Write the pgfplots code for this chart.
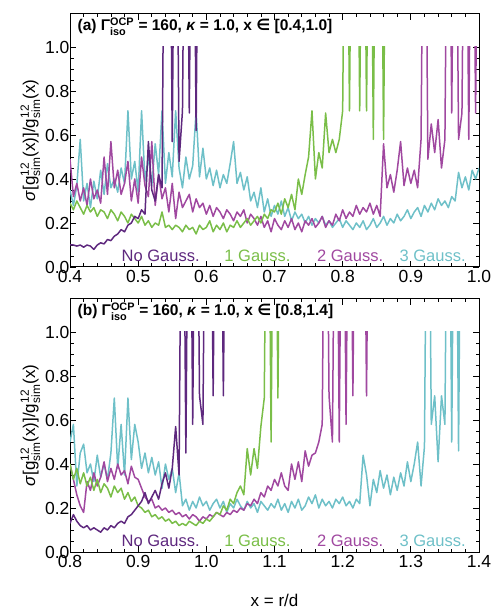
\documentclass[border=0pt]{standalone}
\usepackage{fontspec}
\setmainfont{Liberation Sans}
\newfontfamily\dejavu{DejaVu Sans}
\usepackage{amsmath}
\usepackage{pgfplots}
\pgfplotsset{compat=1.18}

\definecolor{nog}{HTML}{5E287E}
\definecolor{ga}{HTML}{7ABE48}
\definecolor{gb}{HTML}{A048A0}
\definecolor{gc}{HTML}{6EC0C8}

\newcommand\gsim{g$^{\text{12}}_{\text{sim}}$}

\pgfplotsset{
  panel/.style={
    scale only axis, width=409pt, height=253pt,
    ymin=0, ymax=1.15,
    ytick={0,0.2,0.4,0.6,0.8,1.0},
    minor y tick num=3, minor x tick num=4,
    tick align=inside,
    major tick length=6pt, minor tick length=3.5pt,
    tick style={black, line width=0.7pt},
    axis line style={line width=1pt},
    ticklabel style={font=\fontsize{17.5}{17.5}\selectfont},
    /pgf/number format/assume math mode=true,
    xticklabel style={/pgf/number format/fixed, /pgf/number format/fixed zerofill, /pgf/number format/precision=1},
    yticklabel style={xshift=3pt, /pgf/number format/fixed, /pgf/number format/fixed zerofill, /pgf/number format/precision=1},
    ylabel={\textit{σ}[\gsim(x)]/\gsim(x)},
    ylabel style={font=\fontsize{17}{17}\selectfont, yshift=-2pt},
    every axis plot/.append style={line width=1.5pt, line join=round},
  },
}
\tikzset{
  ttl/.style={anchor=west, font=\bfseries\fontsize{15.5}{15.5}\selectfont},
  lbl/.style={anchor=base, font=\fontsize{16.5}{16.5}\selectfont},
}

\begin{document}
\begin{tikzpicture}
\useasboundingbox (-70pt,-342pt) rectangle (424pt,267pt);

% ---------------- panel (a) ----------------
\begin{axis}[panel, at={(0,0)}, xmin=0.4, xmax=1.0,
  xtick={0.4,0.5,0.6,0.7,0.8,0.9,1.0}]
\node[ttl] at (rel axis cs:0.01,0.949) {(a) Γ$^{\text{OCP}}_{\text{iso}}$ = 160, \textit{κ} = 1.0, x {\dejavu\bfseries ∈} [0.4,1.0]};
\clip (axis cs:0.3,-0.1) rectangle (axis cs:1.1,1.0);

% 3 Gauss.
\addplot[gc] coordinates {
 (0.400,0.35)(0.405,0.28)(0.410,0.37)(0.415,0.58)(0.420,0.30)(0.425,0.38)(0.430,0.27)(0.435,0.39)
 (0.440,0.31)(0.445,0.44)(0.450,0.33)(0.455,0.47)(0.460,0.36)(0.465,0.40)(0.470,0.34)(0.475,0.45)
 (0.480,0.38)(0.485,0.71)(0.490,0.40)(0.495,0.48)(0.500,0.34)(0.505,0.71)(0.510,0.39)(0.515,0.50)
 (0.520,0.37)(0.525,0.56)(0.530,0.42)(0.535,0.71)(0.540,0.38)(0.545,0.52)(0.550,0.41)(0.555,0.71)
 (0.560,0.45)(0.565,0.36)(0.570,0.50)(0.575,0.40)(0.580,0.46)(0.585,0.71)(0.590,0.41)(0.595,0.54)
 (0.600,0.40)(0.605,0.45)(0.610,0.37)(0.615,0.44)(0.620,0.36)(0.625,0.42)(0.630,0.38)(0.635,0.47)
 (0.640,0.57)(0.645,0.38)(0.650,0.43)(0.655,0.35)(0.660,0.41)(0.665,0.30)(0.670,0.34)(0.675,0.27)
 (0.680,0.36)(0.685,0.25)(0.690,0.31)(0.695,0.23)(0.700,0.28)(0.705,0.24)(0.710,0.30)(0.715,0.23)
 (0.720,0.27)(0.725,0.21)(0.730,0.25)(0.735,0.22)(0.740,0.24)(0.745,0.20)(0.750,0.23)(0.755,0.19)
 (0.760,0.22)(0.765,0.20)(0.770,0.23)(0.775,0.19)(0.780,0.21)(0.785,0.18)(0.790,0.20)(0.795,0.22)
 (0.800,0.18)(0.805,0.21)(0.810,0.19)(0.815,0.17)(0.820,0.20)(0.825,0.18)(0.830,0.21)(0.835,0.17)
 (0.840,0.19)(0.845,0.22)(0.850,0.18)(0.855,0.20)(0.860,0.23)(0.865,0.19)(0.870,0.22)(0.875,0.20)
 (0.880,0.24)(0.885,0.21)(0.890,0.23)(0.895,0.26)(0.900,0.22)(0.905,0.25)(0.910,0.27)(0.915,0.23)
 (0.920,0.28)(0.925,0.25)(0.930,0.29)(0.935,0.26)(0.940,0.31)(0.945,0.28)(0.950,0.30)(0.955,0.27)
 (0.960,0.32)(0.965,0.30)(0.970,0.43)(0.975,0.36)(0.980,0.41)(0.985,0.35)(0.990,0.44)(0.995,0.40)
 (1.000,0.45)
};
% 2 Gauss.
\addplot[gb] coordinates {
 (0.400,0.49)(0.405,0.32)(0.410,0.38)(0.415,0.30)(0.420,0.36)(0.425,0.28)(0.430,0.40)(0.435,0.31)
 (0.440,0.35)(0.445,0.29)(0.450,0.50)(0.455,0.33)(0.460,0.57)(0.465,0.36)(0.470,0.44)(0.475,0.33)
 (0.480,0.38)(0.485,0.48)(0.490,0.30)(0.495,0.40)(0.500,0.29)(0.505,0.50)(0.510,0.37)(0.515,0.32)
 (0.520,0.57)(0.525,0.28)(0.530,0.42)(0.535,0.31)(0.540,0.36)(0.545,0.25)(0.550,0.38)(0.555,0.22)
 (0.560,0.34)(0.565,0.27)(0.570,0.30)(0.575,0.33)(0.580,0.25)(0.585,0.31)(0.590,0.27)(0.595,0.29)
 (0.600,0.24)(0.605,0.28)(0.610,0.23)(0.615,0.27)(0.620,0.25)(0.625,0.22)(0.630,0.26)(0.635,0.24)
 (0.640,0.21)(0.645,0.25)(0.650,0.23)(0.655,0.26)(0.660,0.20)(0.665,0.24)(0.670,0.22)(0.675,0.19)
 (0.680,0.23)(0.685,0.18)(0.690,0.21)(0.695,0.16)(0.700,0.22)(0.705,0.19)(0.710,0.17)(0.715,0.21)
 (0.720,0.18)(0.725,0.22)(0.730,0.17)(0.735,0.20)(0.740,0.16)(0.745,0.21)(0.750,0.19)(0.755,0.22)
 (0.760,0.18)(0.765,0.20)(0.770,0.23)(0.775,0.18)(0.780,0.21)(0.785,0.19)(0.790,0.24)(0.795,0.21)
 (0.800,0.26)(0.805,0.22)(0.810,0.25)(0.815,0.23)(0.820,0.28)(0.825,0.24)(0.830,0.27)(0.835,0.25)
 (0.840,0.29)(0.845,0.24)(0.850,0.28)(0.855,0.23)(0.860,0.56)(0.865,0.36)(0.870,0.42)(0.875,0.34)
 (0.880,0.44)(0.885,0.57)(0.890,0.37)(0.895,0.45)(0.900,0.38)(0.905,0.44)(0.910,0.36)(0.915,0.58)
 (0.920,2.5)(0.925,0.49)(0.930,0.65)(0.935,0.52)(0.940,0.67)(0.945,0.45)(0.950,0.58)(0.955,2.5)
 (0.960,0.70)(0.965,2.5)(0.970,0.58)(0.975,0.70)(0.980,2.5)(0.985,0.58)(0.990,2.5)(0.995,0.70)
 (1.000,2.5)
};
% 1 Gauss.
\addplot[ga] coordinates {
 (0.400,0.29)(0.405,0.26)(0.410,0.30)(0.415,0.27)(0.420,0.24)(0.425,0.28)(0.430,0.25)(0.435,0.27)
 (0.440,0.23)(0.445,0.26)(0.450,0.25)(0.455,0.22)(0.460,0.26)(0.465,0.24)(0.470,0.21)(0.475,0.25)
 (0.480,0.23)(0.485,0.20)(0.490,0.24)(0.495,0.22)(0.500,0.20)(0.505,0.23)(0.510,0.19)(0.515,0.21)
 (0.520,0.18)(0.525,0.20)(0.530,0.19)(0.535,0.25)(0.540,0.18)(0.545,0.19)(0.550,0.17)(0.555,0.19)
 (0.560,0.18)(0.565,0.16)(0.570,0.19)(0.575,0.17)(0.580,0.18)(0.585,0.15)(0.590,0.19)(0.595,0.17)
 (0.600,0.18)(0.605,0.21)(0.610,0.16)(0.615,0.19)(0.620,0.17)(0.625,0.20)(0.630,0.16)(0.635,0.19)
 (0.640,0.18)(0.645,0.21)(0.650,0.18)(0.655,0.20)(0.660,0.22)(0.665,0.19)(0.670,0.21)(0.675,0.23)
 (0.680,0.20)(0.685,0.24)(0.690,0.22)(0.695,0.26)(0.700,0.25)(0.705,0.29)(0.710,0.24)(0.715,0.31)
 (0.720,0.27)(0.725,0.33)(0.730,0.26)(0.735,0.40)(0.740,0.33)(0.745,0.42)(0.750,0.50)(0.755,0.71)
 (0.760,0.40)(0.765,0.52)(0.770,0.45)(0.775,0.70)(0.780,0.52)(0.785,0.58)(0.790,0.52)(0.795,0.58)
 (0.800,0.71)(0.805,2.5)(0.810,0.71)(0.815,2.5)(0.820,2.5)(0.825,0.71)(0.830,2.5)(0.835,0.71)
 (0.840,2.5)(0.845,0.58)(0.850,2.5)(0.855,2.5)(0.860,0.58)(0.865,2.5)
};
% No Gauss.
\addplot[nog] coordinates {
 (0.400,0.10)(0.405,0.10)(0.410,0.095)(0.415,0.10)(0.420,0.09)(0.425,0.10)(0.430,0.095)(0.435,0.08)
 (0.440,0.10)(0.445,0.11)(0.450,0.105)(0.455,0.125)(0.460,0.12)(0.465,0.14)(0.470,0.15)(0.475,0.17)
 (0.480,0.16)(0.485,0.19)(0.490,0.20)(0.495,0.23)(0.500,0.22)(0.505,0.26)(0.510,0.24)(0.515,0.57)
 (0.520,0.35)(0.525,0.30)(0.530,0.42)(0.535,0.36)(0.540,2.5)(0.545,2.5)(0.550,0.57)(0.555,2.5)
 (0.560,0.48)(0.565,0.71)(0.570,2.5)(0.575,0.70)(0.580,2.5)(0.585,0.62)(0.590,2.5)(0.595,2.5)
};

\node[lbl, text=nog] at (axis cs:0.533,0.027) {No Gauss.};
\node[lbl, text=ga] at (axis cs:0.675,0.027) {1 Gauss.};
\node[lbl, text=gb] at (axis cs:0.811,0.027) {2 Gauss.};
\node[lbl, text=gc] at (axis cs:0.932,0.027) {3 Gauss.};
\end{axis}

% ---------------- panel (b) ----------------
\begin{axis}[panel, at={(0,-285pt)}, xmin=0.8, xmax=1.4,
  xtick={0.8,0.9,1.0,1.1,1.2,1.3,1.4},
  xlabel={x = r/d},
  xlabel style={font=\fontsize{17}{17}\selectfont, at={(rel axis cs:0.5,0)}, anchor=base, yshift=-54pt}]
\node[ttl] at (rel axis cs:0.01,0.949) {(b) Γ$^{\text{OCP}}_{\text{iso}}$ = 160, \textit{κ} = 1.0, x {\dejavu\bfseries ∈} [0.8,1.4]};
\clip (axis cs:0.7,-0.1) rectangle (axis cs:1.5,1.0);

% 3 Gauss.
\addplot[gc] coordinates {
 (0.800,0.50)(0.805,0.58)(0.810,0.30)(0.815,0.45)(0.820,0.49)(0.825,0.36)(0.830,0.40)(0.835,0.32)
 (0.840,0.44)(0.845,0.34)(0.850,0.40)(0.855,0.33)(0.860,0.45)(0.865,0.70)(0.870,0.38)(0.875,0.58)
 (0.880,0.35)(0.885,0.70)(0.890,0.42)(0.895,0.58)(0.900,0.50)(0.905,0.38)(0.910,0.45)(0.915,0.36)
 (0.920,0.43)(0.925,0.35)(0.930,0.41)(0.935,0.29)(0.940,0.40)(0.945,0.33)(0.950,0.38)(0.955,0.27)
 (0.960,0.36)(0.965,0.21)(0.970,0.24)(0.975,0.19)(0.980,0.23)(0.985,0.20)(0.990,0.25)(0.995,0.21)
 (1.000,0.23)(1.005,0.19)(1.010,0.22)(1.015,0.24)(1.020,0.20)(1.025,0.23)(1.030,0.18)(1.035,0.22)
 (1.040,0.20)(1.045,0.24)(1.050,0.21)(1.055,0.19)(1.060,0.23)(1.065,0.20)(1.070,0.22)(1.075,0.18)
 (1.080,0.23)(1.085,0.21)(1.090,0.19)(1.095,0.22)(1.100,0.20)(1.105,0.24)(1.110,0.19)(1.115,0.22)
 (1.120,0.18)(1.125,0.23)(1.130,0.20)(1.135,0.24)(1.140,0.19)(1.145,0.21)(1.150,0.25)(1.155,0.22)
 (1.160,0.26)(1.165,0.20)(1.170,0.24)(1.175,0.21)(1.180,0.23)(1.185,0.20)(1.190,0.24)(1.195,0.22)
 (1.200,0.25)(1.205,0.21)(1.210,0.23)(1.215,0.20)(1.220,0.24)(1.225,0.22)(1.230,0.44)(1.235,0.35)
 (1.240,0.21)(1.245,0.33)(1.250,0.27)(1.255,0.37)(1.260,0.29)(1.265,0.35)(1.270,0.26)(1.275,0.34)
 (1.280,0.28)(1.285,0.36)(1.290,0.30)(1.295,0.41)(1.300,0.32)(1.305,0.40)(1.310,0.50)(1.315,0.30)
 (1.320,0.48)(1.325,2.5)(1.330,0.58)(1.335,0.71)(1.340,0.41)(1.345,0.71)(1.350,0.58)(1.355,2.5)
 (1.360,0.50)(1.365,2.5)(1.370,0.46)(1.375,2.5)(1.380,2.5)(1.385,2.5)(1.390,2.5)
};
% 2 Gauss.
\addplot[gb] coordinates {
 (0.800,0.40)(0.805,0.33)(0.810,0.26)(0.815,0.21)(0.820,0.18)(0.825,0.32)(0.830,0.28)(0.835,0.36)
 (0.840,0.30)(0.845,0.34)(0.850,0.41)(0.855,0.32)(0.860,0.38)(0.865,0.33)(0.870,0.40)(0.875,0.35)
 (0.880,0.37)(0.885,0.31)(0.890,0.39)(0.895,0.34)(0.900,0.33)(0.905,0.29)(0.910,0.25)(0.915,0.23)
 (0.920,0.24)(0.925,0.20)(0.930,0.21)(0.935,0.19)(0.940,0.20)(0.945,0.18)(0.950,0.19)(0.955,0.17)
 (0.960,0.18)(0.965,0.16)(0.970,0.17)(0.975,0.15)(0.980,0.17)(0.985,0.16)(0.990,0.14)(0.995,0.16)
 (1.000,0.15)(1.005,0.17)(1.010,0.16)(1.015,0.18)(1.020,0.17)(1.025,0.16)(1.030,0.18)(1.035,0.17)
 (1.040,0.19)(1.045,0.18)(1.050,0.20)(1.055,0.19)(1.060,0.22)(1.065,0.21)(1.070,0.24)(1.075,0.22)
 (1.080,0.27)(1.085,0.25)(1.090,0.30)(1.095,0.28)(1.100,0.33)(1.105,0.30)(1.110,0.36)(1.115,0.30)
 (1.120,0.28)(1.125,0.40)(1.130,0.33)(1.135,0.41)(1.140,0.32)(1.145,0.46)(1.150,0.39)(1.155,0.44)
 (1.160,0.45)(1.165,0.50)(1.170,0.58)(1.175,2.5)(1.180,0.71)(1.185,0.50)(1.190,2.5)(1.195,0.50)
 (1.200,2.5)(1.205,0.58)(1.210,2.5)(1.215,0.71)(1.220,2.5)(1.225,2.5)(1.230,2.5)(1.235,0.71)
 (1.240,2.5)(1.245,2.5)
};
% 1 Gauss.
\addplot[ga] coordinates {
 (0.800,0.40)(0.805,0.33)(0.810,0.38)(0.815,0.31)(0.820,0.36)(0.825,0.30)(0.830,0.34)(0.835,0.28)
 (0.840,0.33)(0.845,0.27)(0.850,0.31)(0.855,0.29)(0.860,0.25)(0.865,0.30)(0.870,0.27)(0.875,0.29)
 (0.880,0.24)(0.885,0.27)(0.890,0.23)(0.895,0.25)(0.900,0.21)(0.905,0.20)(0.910,0.18)(0.915,0.19)
 (0.920,0.16)(0.925,0.17)(0.930,0.15)(0.935,0.16)(0.940,0.14)(0.945,0.15)(0.950,0.13)(0.955,0.14)
 (0.960,0.12)(0.965,0.13)(0.970,0.12)(0.975,0.14)(0.980,0.13)(0.985,0.12)(0.990,0.14)(0.995,0.13)
 (1.000,0.15)(1.005,0.14)(1.010,0.16)(1.015,0.18)(1.020,0.17)(1.025,0.21)(1.030,0.19)(1.035,0.24)
 (1.040,0.22)(1.045,0.27)(1.050,0.30)(1.055,0.26)(1.060,0.47)(1.065,0.35)(1.070,0.47)(1.075,0.38)
 (1.080,0.57)(1.085,0.70)(1.090,2.5)(1.095,0.50)(1.100,2.5)(1.105,0.70)(1.110,2.5)(1.115,2.5)
};
% No Gauss.
\addplot[nog] coordinates {
 (0.800,0.13)(0.805,0.17)(0.810,0.14)(0.815,0.12)(0.820,0.11)(0.825,0.12)(0.830,0.10)(0.835,0.11)
 (0.840,0.10)(0.845,0.09)(0.850,0.11)(0.855,0.10)(0.860,0.12)(0.865,0.11)(0.870,0.13)(0.875,0.14)
 (0.880,0.13)(0.885,0.16)(0.890,0.17)(0.895,0.19)(0.900,0.21)(0.905,0.23)(0.910,0.27)(0.915,0.22)
 (0.920,0.25)(0.925,0.28)(0.930,0.24)(0.935,0.31)(0.940,0.36)(0.945,0.29)(0.950,0.38)(0.955,0.57)
 (0.960,0.35)(0.965,2.5)(0.970,0.45)(0.975,2.5)(0.980,0.58)(0.985,2.5)(0.990,0.71)(0.995,0.58)
 (1.000,2.5)(1.005,2.5)(1.010,0.71)(1.015,2.5)(1.020,2.5)(1.025,0.71)(1.030,2.5)(1.035,2.5)
};

\node[lbl, text=nog] at (axis cs:0.933,0.027) {No Gauss.};
\node[lbl, text=ga] at (axis cs:1.075,0.027) {1 Gauss.};
\node[lbl, text=gb] at (axis cs:1.211,0.027) {2 Gauss.};
\node[lbl, text=gc] at (axis cs:1.332,0.027) {3 Gauss.};
\end{axis}
\end{tikzpicture}
\end{document}
